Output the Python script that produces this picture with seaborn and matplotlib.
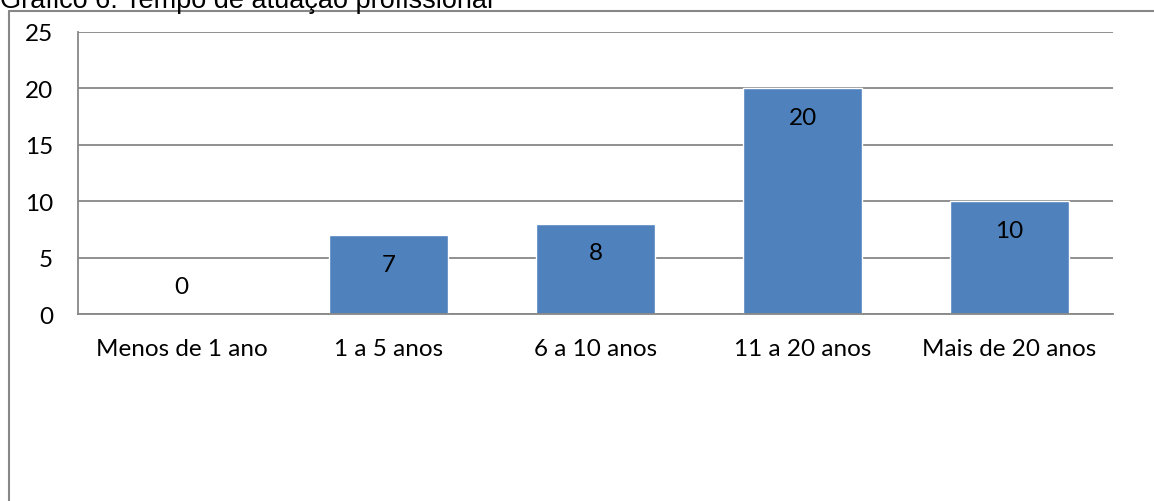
import matplotlib
matplotlib.use("Agg")
import matplotlib.pyplot as plt
import seaborn as sns
import pandas as pd
from matplotlib.lines import Line2D

# Data
categorias = ["Menos de 1 ano", "1 a 5 anos", "6 a 10 anos", "11 a 20 anos", "Mais de 20 anos"]
respostas = [0, 7, 8, 20, 10]
titulo = "Gráfico 6: Tempo de atuação profissional"

W, H = 1154, 502
BAR_COLOR = "#4F81BD"
GRID_COLOR = "#878787"
FS = 17.5

sns.set_theme(style="white")
plt.rcParams["font.family"] = ["Lato", "DejaVu Sans"]

df = pd.DataFrame({"categoria": categorias, "respostas": respostas})

fig = plt.figure(figsize=(W / 100, H / 100), dpi=100)
fig.patch.set_facecolor("white")

# plot area in pixel coordinates
left, right, top, bottom = 78, 1113, 33, 315
ax = fig.add_axes([left / W, 1 - bottom / H, (right - left) / W, (bottom - top) / H])

sns.barplot(data=df, x="categoria", y="respostas", color=BAR_COLOR,
            saturation=1, width=0.575, ax=ax, zorder=3)

ax.set_ylim(0, 25)
ax.set_yticks(range(0, 26, 5))
ax.set_xlabel("")
ax.set_ylabel("")
ax.yaxis.grid(True, color=GRID_COLOR, linewidth=1.3)
ax.set_axisbelow(True)
for side in ["top", "right"]:
    ax.spines[side].set_visible(False)
for side in ["left", "bottom"]:
    ax.spines[side].set_color(GRID_COLOR)
    ax.spines[side].set_linewidth(1.3)
    ax.spines[side].set_zorder(4)
ax.tick_params(axis="both", length=0, labelsize=FS, colors="black")
ax.tick_params(axis="y", pad=18)
ax.tick_params(axis="x", pad=17)

# data labels: inside end of bar, above the baseline for zero
for i, v in enumerate(respostas):
    offset = -21 if v > 0 else 20
    ax.annotate(str(v), (i, v), xytext=(0, offset), textcoords="offset points",
                ha="center", va="center", fontsize=FS, color="black", zorder=5)

# outer chart frame (left and top edges visible)
fig.add_artist(Line2D([9 / W, 9 / W], [0, 1 - 12 / H], transform=fig.transFigure,
                      color=GRID_COLOR, linewidth=1.5))
fig.add_artist(Line2D([9 / W, 1], [1 - 12 / H, 1 - 12 / H], transform=fig.transFigure,
                      color=GRID_COLOR, linewidth=1.5))

# title, partly cut at the top edge as in the source
fig.text(0 / W, 1 - 8 / H, titulo, ha="left", va="baseline", fontsize=19.5,
         family=["Liberation Sans", "DejaVu Sans"], color="black")

fig.savefig("out.png", dpi=100)
